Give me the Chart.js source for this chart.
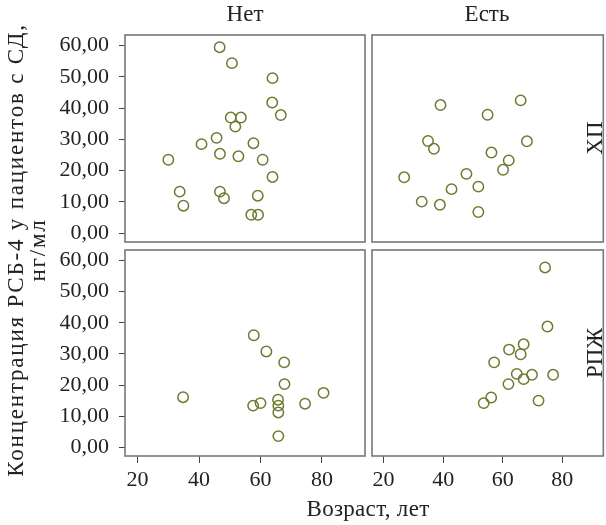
<!DOCTYPE html>
<html>
<head>
<meta charset="utf-8">
<script src="https://cdn.jsdelivr.net/npm/chart.js@4.4.1/dist/chart.umd.min.js"></script>
<style>
  html, body { margin: 0; padding: 0; background: #fff; overflow: hidden; }
  #wrap { position: relative; width: 606px; height: 525px; font-family: 'Liberation Serif', serif; color: #222; }
  #wrap canvas { position: absolute; left: 0; top: 0; }
  .lbl { position: absolute; font-size: 23px; white-space: nowrap; line-height: 22px; }
</style>
</head>
<body>
<div id="wrap">
  <canvas id="tl" width="606" height="525"></canvas>
  <canvas id="tr" width="606" height="525"></canvas>
  <canvas id="bl" width="606" height="525"></canvas>
  <canvas id="br" width="606" height="525"></canvas>

  <div class="lbl" id="colNet" style="left:145px; top:3px; width:200px; text-align:center;"></div>
  <div class="lbl" id="colEst" style="left:387px; top:3px; width:200px; text-align:center;"></div>
  <div class="lbl" id="rowHp" style="left:545px; top:127px; width:100px; text-align:center; transform:rotate(-90deg);"></div>
  <div class="lbl" id="rowRpzh" style="left:545px; top:342px; width:100px; text-align:center; transform:rotate(-90deg);"></div>
  <div class="lbl" id="yTitle" style="left:-233px; top:228px; width:520px; text-align:center; letter-spacing:1.8px; transform:rotate(-90deg);"></div>
  <div class="lbl" id="xTitle" style="left:218px; top:498px; width:300px; text-align:center; letter-spacing:0.3px;"></div>
</div>

<script>
// Подписи фасетов и осей
const columnLabels = ['Нет', 'Есть'];
const rowLabels = ['ХП', 'РПЖ'];
const yTitleLines = ['Концентрация РСБ-4 у пациентов с СД,', 'нг/мл'];
const xTitle = 'Возраст, лет';

const xTicks = [20, 40, 60, 80];
const yTicks = [0, 10, 20, 30, 40, 50, 60];

// ХП, осложнений нет
const netHpAge  = [46.7, 50.7, 63.9, 63.8, 66.6, 50.3, 53.6, 51.8, 45.7, 40.8, 57.7, 46.8, 52.8, 60.7, 30.0, 63.9, 33.7, 46.8, 48.1, 59.1, 34.9, 57.0, 59.2];
const netHpConc = [59.5, 54.4, 49.6, 41.8, 37.8, 37.0, 37.0, 34.1, 30.5, 28.5, 28.8, 25.4, 24.6, 23.5, 23.5, 18.0, 13.3, 13.3, 11.2, 12.0, 8.8, 5.9, 5.9];

// ХП, осложнения есть
const estHpAge  = [39.1, 66.0, 54.9, 34.9, 36.9, 68.1, 56.2, 62.0, 60.1, 47.8, 26.9, 51.8, 42.8, 32.8, 38.9, 51.8];
const estHpConc = [41.0, 42.5, 37.9, 29.5, 27.0, 29.4, 25.8, 23.3, 20.3, 19.0, 17.9, 14.9, 14.1, 10.1, 9.1, 6.8];

// РПЖ, осложнений нет
const netRpzhAge  = [57.8, 61.9, 67.7, 67.8, 34.8, 80.5, 65.7, 60.0, 57.6, 74.5, 65.8, 65.8, 65.8];
const netRpzhConc = [36.0, 30.8, 27.3, 20.3, 16.1, 17.5, 15.3, 14.2, 13.4, 14.0, 13.4, 11.2, 3.6];

// РПЖ, осложнения есть
const estRpzhAge  = [74.2, 75.0, 67.0, 62.1, 66.0, 57.1, 64.7, 69.8, 76.9, 67.0, 61.9, 72.0, 56.1, 53.6];
const estRpzhConc = [57.8, 38.8, 33.1, 31.4, 29.9, 27.3, 23.6, 23.3, 23.3, 21.9, 20.3, 15.0, 16.0, 14.2];

document.getElementById('colNet').textContent = columnLabels[0];
document.getElementById('colEst').textContent = columnLabels[1];
document.getElementById('rowHp').textContent = rowLabels[0];
document.getElementById('rowRpzh').textContent = rowLabels[1];
document.getElementById('yTitle').innerHTML = yTitleLines.join('<br>');
document.getElementById('xTitle').textContent = xTitle;

Chart.defaults.font.family = "'Liberation Serif', serif";
Chart.defaults.font.size = 22;
Chart.defaults.color = '#222';

const markerColor = '#6e7a30';

// рамка панели
const panelBox = {
    id: 'panelBox',
    afterDatasetsDraw(chart, args, opts) {
        const a = chart.chartArea;
        const ctx = chart.ctx;
        ctx.save();
        ctx.strokeStyle = '#777';
        ctx.lineWidth = 1.6;
        ctx.strokeRect(a.left, a.top, a.right - a.left + (opts.openRight ? 4 : 0), a.bottom - a.top);
        ctx.restore();
    }
};

function toPoints(xs, ys) {
    return xs.map((x, i) => ({ x: x, y: ys[i] }));
}

function makePanel(id, xs, ys, cfg) {
    const ctx = document.getElementById(id).getContext('2d');
    return new Chart(ctx, {
        type: 'scatter',
        data: {
            datasets: [{
                data: toPoints(xs, ys),
                borderColor: markerColor,
                backgroundColor: 'rgba(0,0,0,0)',
                borderWidth: 1.5,
                pointRadius: 5.2,
                pointHoverRadius: 5.2
            }]
        },
        options: {
            responsive: false,
            animation: false,
            events: [],
            layout: { padding: cfg.padding },
            plugins: { legend: { display: false }, tooltip: { enabled: false }, panelBox: { openRight: cfg.openRight } },
            scales: {
                x: {
                    type: 'linear',
                    min: cfg.xMin,
                    max: cfg.xMax,
                    display: cfg.showX,
                    afterBuildTicks: axis => { axis.ticks = xTicks.map(v => ({ value: v })); },
                    afterFit: axis => { axis.height = cfg.showX ? 69 : 0; },
                    grid: { drawOnChartArea: false, drawTicks: true, tickLength: 7, color: '#444' },
                    border: { display: false },
                    ticks: { padding: 4, maxRotation: 0, callback: v => String(v) }
                },
                y: {
                    type: 'linear',
                    min: -2.8,
                    max: 63.4,
                    display: cfg.showY,
                    afterBuildTicks: axis => { axis.ticks = yTicks.map(v => ({ value: v })); },
                    afterFit: axis => { axis.width = cfg.showY ? 125 : 0; },
                    grid: { drawOnChartArea: false, drawTicks: true, tickLength: 6, color: '#444' },
                    border: { display: false },
                    ticks: { padding: 10, callback: v => v.toFixed(2).replace('.', ',') }
                }
            }
        },
        plugins: [panelBox]
    });
}

makePanel('tl', netHpAge, netHpConc, {
    padding: { left: 0, top: 35, right: 241, bottom: 283 },
    xMin: 15.9, xMax: 94.0, showX: false, showY: true
});
makePanel('tr', estHpAge, estHpConc, {
    padding: { left: 372, top: 35, right: 0, bottom: 283 },
    xMin: 16.1, xMax: 92.4, showX: false, showY: false, openRight: true
});
makePanel('bl', netRpzhAge, netRpzhConc, {
    padding: { left: 0, top: 250, right: 241, bottom: 0 },
    xMin: 15.9, xMax: 94.0, showX: true, showY: true
});
makePanel('br', estRpzhAge, estRpzhConc, {
    padding: { left: 372, top: 250, right: 0, bottom: 0 },
    xMin: 16.1, xMax: 92.4, showX: true, showY: false, openRight: true
});
</script>
</body>
</html>
